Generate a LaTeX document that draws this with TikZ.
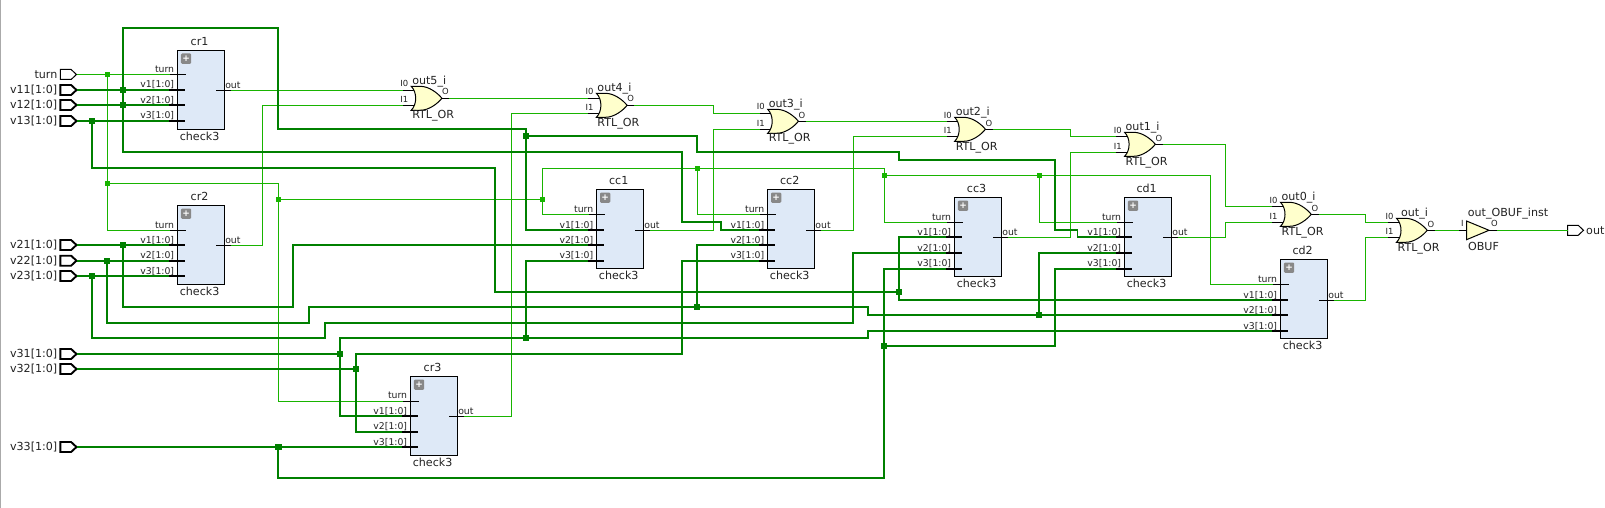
\documentclass[tikz,border=0pt]{standalone}
\usepackage{fontspec}
\setmainfont{DejaVu Sans}
\definecolor{wirelt}{HTML}{18B400}
\definecolor{wirebus}{HTML}{008000}
\definecolor{blockfill}{HTML}{DEE9F7}
\definecolor{gatefill}{HTML}{FFFFCC}
\definecolor{edgegray}{HTML}{AAAAAA}
\definecolor{icongray}{HTML}{888888}
\definecolor{txt}{HTML}{222222}
\tikzset{
  wl/.style={draw=wirelt,line width=1pt},
  wb/.style={draw=wirebus,line width=1.9pt},
  blockbox/.style={draw=black,fill=blockfill,line width=1pt,minimum width=47pt,minimum height=79pt,inner sep=0pt,outer sep=0pt,anchor=north west},
  iconbox/.style={fill=icongray,rounded corners=1.2pt,minimum width=10.3pt,minimum height=10.3pt,inner sep=0pt,anchor=north west,text=white,font=\fontsize{9}{9}\selectfont\bfseries},
  bigtxt/.style={font=\fontsize{11.1}{12}\selectfont,text=txt,inner sep=0pt,outer sep=0pt},
  pintxt/.style={font=\fontsize{9.3}{10}\selectfont,text=txt,inner sep=0pt,outer sep=0pt},
  smalltxt/.style={font=\fontsize{8.4}{9}\selectfont,text=txt,inner sep=0pt,outer sep=0pt},
  stubn/.style={draw=black,line width=1pt},
  stubb/.style={draw=black,line width=1.9pt},
  gateshape/.style={draw=black,fill=gatefill,line width=1pt,line join=miter},
  dotl/.style={fill=wirelt,minimum size=5pt,inner sep=0pt,outer sep=0pt},
  dotb/.style={fill=wirebus,minimum size=6.2pt,inner sep=0pt,outer sep=0pt},
}
% name, x left, y top, y turn, y v1, y v2, y v3, y out
\newcommand{\mkblock}[8]{%
  \node[blockbox] (#1) at (#2,#3) {};
  \node[iconbox] (#1-plus) at (#2+3.4,#3+3) {+};
  \node[bigtxt,anchor=base] (#1-name) at (#2+22.3,#3-4.5) {#1};
  \node[bigtxt,anchor=base] (#1-type) at (#2+22.3,#3+89.7) {check3};
  \coordinate (#1-turn) at (#2-7.7,#4);
  \coordinate (#1-v1) at (#2-8,#5);
  \coordinate (#1-v2) at (#2-8,#6);
  \coordinate (#1-v3) at (#2-8,#7);
  \coordinate (#1-out) at (#2+53.4,#8);
  \draw[stubn] (#1-turn) -- (#2+8.7,#4);
  \draw[stubb] (#1-v1) -- (#2+7.7,#5);
  \draw[stubb] (#1-v2) -- (#2+7.7,#6);
  \draw[stubb] (#1-v3) -- (#2+7.7,#7);
  \draw[stubn] (#2+38.7,#8) -- (#1-out);
  \node[pintxt,anchor=base east] (#1-lt) at (#2-3.2,#4-2.2) {turn};
  \node[pintxt,anchor=base east] (#1-l1) at (#2-3.2,#5-2) {v1[1:0]};
  \node[pintxt,anchor=base east] (#1-l2) at (#2-3.2,#6-2) {v2[1:0]};
  \node[pintxt,anchor=base east] (#1-l3) at (#2-3.2,#7-2) {v3[1:0]};
  \node[pintxt,anchor=base west] (#1-lo) at (#2+48,#8-2) {out};
}
% name, x left, y I0, y I1, y O, title
\newcommand{\mkgate}[6]{%
  \coordinate (#1-i0) at (#2-8.2,#3);
  \coordinate (#1-i1) at (#2-8.2,#4);
  \coordinate (#1-o) at (#2+38,#5);
  \draw[stubn] (#1-i0) -- (#2+4,#3);
  \draw[stubn] (#1-i1) -- (#2+4,#4);
  \draw[stubn] (#2+30,#5) -- (#1-o);
  \path[gateshape] (#2,#5-12) -- (#2+9,#5-12)
    .. controls (#2+18,#5-12) and (#2+26.7,#5-5) .. (#2+30.7,#5)
    .. controls (#2+26.7,#5+5) and (#2+18,#5+12) .. (#2+9,#5+12)
    -- (#2,#5+12)
    .. controls (#2+6,#5+6) and (#2+6,#5-6) .. cycle;
  \node[bigtxt,anchor=base] (#1-name) at (#2+18,#5-14) {#6};
  \node[bigtxt,anchor=base] (#1-type) at (#2+22,#5+20.7) {RTL\_OR};
  \node[smalltxt,anchor=base] (#1-li0) at (#2-6.9,#3-3.3) {I0};
  \node[smalltxt,anchor=base] (#1-li1) at (#2-6.9,#4-2.5) {I1};
  \node[smalltxt,anchor=base] (#1-lo) at (#2+34.3,#5-3.3) {O};
}
% name, y, label, line width
\newcommand{\mkport}[4]{%
  \coordinate (#1) at (76.5,#2);
  \draw[draw=black,fill=white,line width=#4] (60.4,#2-5) -- (71.1,#2-5) -- (#1) -- (71.1,#2+5) -- (60.4,#2+5) -- cycle;
  \node[bigtxt,anchor=base east] (#1-lab) at (57.3,#2+3.8) {#3};
}
\begin{document}
\begin{tikzpicture}[x=1pt,y=-1pt]
\useasboundingbox (0,0) rectangle (1605,508);
\fill[white] (0,0) rectangle (1605,508);
\fill[edgegray] (0,0) rectangle (1.2,508);

% ports
\mkport{turn}{74.5}{turn}{1pt}
\mkport{v11}{90}{v11[1:0]}{1.9pt}
\mkport{v12}{105}{v12[1:0]}{1.9pt}
\mkport{v13}{121}{v13[1:0]}{1.9pt}
\mkport{v21}{245}{v21[1:0]}{1.9pt}
\mkport{v22}{260.7}{v22[1:0]}{1.9pt}
\mkport{v23}{276}{v23[1:0]}{1.9pt}
\mkport{v31}{354}{v31[1:0]}{1.9pt}
\mkport{v32}{369}{v32[1:0]}{1.9pt}
\mkport{v33}{447}{v33[1:0]}{1.9pt}

% blocks
\mkblock{cr1}{177.3}{50.3}{74.5}{90}{105}{121}{90.3}
\mkblock{cr2}{177.3}{205.3}{230.3}{245}{260.7}{276}{245.3}
\mkblock{cr3}{410.3}{376.3}{401}{416}{431.7}{447}{416.3}
\mkblock{cc1}{596.4}{189.3}{214.3}{230}{245}{260.7}{230.3}
\mkblock{cc2}{767.4}{189.3}{214.3}{230}{245}{260.7}{230.3}
\mkblock{cc3}{954.3}{197.3}{222.3}{237}{253}{268.7}{237.3}
\mkblock{cd1}{1124.3}{197.3}{222.3}{237}{253}{268.7}{237.3}
\mkblock{cd2}{1280.3}{259.3}{284.3}{300}{315}{331}{300.3}

% gates
\mkgate{out5}{411.2}{90.3}{105.3}{98.3}{out5\_i}
\mkgate{out4}{596.4}{98.3}{113.3}{105.3}{out4\_i}
\mkgate{out3}{767.7}{113.3}{129.3}{121.3}{out3\_i}
\mkgate{out2}{954.7}{121.3}{136.3}{129.3}{out2\_i}
\mkgate{out1}{1124.6}{136.3}{152.3}{144.3}{out1\_i}
\mkgate{out0}{1280.5}{206.3}{222.3}{214.3}{out0\_i}
\mkgate{outg}{1396.5}{222.3}{237.3}{230.3}{out\_i}

% output buffer
\coordinate (obuf-i) at (1459,230.3);
\coordinate (obuf-o) at (1496.8,230.3);
\draw[stubn] (obuf-i) -- (1467,230.3);
\draw[stubn] (1489,230.3) -- (obuf-o);
\path[gateshape] (1466.5,221) -- (1489,230.3) -- (1466.5,239.7) -- cycle;
\node[bigtxt,anchor=base] (obuf-name) at (1508,216.5) {out\_OBUF\_inst};
\node[bigtxt,anchor=base] (obuf-type) at (1483.5,250) {OBUF};
\node[smalltxt,anchor=base] (obuf-li) at (1462.4,226.5) {I};
\node[smalltxt,anchor=base] (obuf-lo) at (1494.5,226.5) {O};

% output port
\coordinate (outp) at (1567.5,230.3);
\draw[draw=black,fill=white,line width=1pt] (outp) ++(0,-5) -- (1578.2,225.3) -- (1583.5,230.3) -- (1578.2,235.3) -- (1567.5,235.3) -- cycle;
\node[bigtxt,anchor=base west] (outp-lab) at (1586.2,234.1) {out};

% junction coordinates
\coordinate (jt1) at (107.5,74.5);
\coordinate (jt2) at (107.5,183.3);
\coordinate (jt3) at (278.4,199.3);
\coordinate (jt4) at (542.5,199.3);
\coordinate (jt5) at (697.4,168.3);
\coordinate (jt6) at (884.4,175.3);
\coordinate (jt7) at (1039.6,175.3);
\coordinate (jb1) at (122.8,90);
\coordinate (jb2) at (526.1,135.7);
\coordinate (jb3) at (122.8,105);
\coordinate (jb4) at (91.8,121);
\coordinate (jb5) at (899,292);
\coordinate (jb6) at (122.8,245);
\coordinate (jb7) at (107.1,260.7);
\coordinate (jb8) at (697.1,306.7);
\coordinate (jb9) at (1039,315);
\coordinate (jb10) at (91.8,276);
\coordinate (jb11) at (339.8,354);
\coordinate (jb12) at (526.1,338);
\coordinate (jb13) at (355.9,369);
\coordinate (jb14) at (278.4,447);
\coordinate (jb15) at (884,346);

% single-bit wires
\draw[wl] (turn) -- (jt1) -- (cr1-turn);
\draw[wl] (jt1) -- (jt2) |- (cr2-turn);
\draw[wl] (jt2) -- (278.4,183.3) -- (jt3) |- (cr3-turn);
\draw[wl] (jt3) -- (jt4);
\draw[wl] (jt4) |- (cc1-turn);
\draw[wl] (jt4) -- (542.5,168.3) -- (jt5) -- (884.4,168.3) -- (jt6);
\draw[wl] (jt5) |- (cc2-turn);
\draw[wl] (jt6) |- (cc3-turn);
\draw[wl] (jt6) -- (jt7) |- (cd1-turn);
\draw[wl] (jt7) -- (1210.2,175.3) |- (cd2-turn);
\draw[wl] (cr1-out) -- (out5-i0);
\draw[wl] (cr2-out) -- (262.4,245.3) |- (out5-i1);
\draw[wl] (out5-o) -- (out4-i0);
\draw[wl] (cr3-out) -- (511.8,416.3) |- (out4-i1);
\draw[wl] (out4-o) -- (713.4,105.3) |- (out3-i0);
\draw[wl] (cc1-out) -- (713.4,230.3) |- (out3-i1);
\draw[wl] (out3-o) -- (out2-i0);
\draw[wl] (cc2-out) -- (853.3,230.3) |- (out2-i1);
\draw[wl] (out2-o) -- (1070.5,129.3) |- (out1-i0);
\draw[wl] (cc3-out) -- (1070.5,237.3) |- (out1-i1);
\draw[wl] (out1-o) -- (1225.2,144.3) |- (out0-i0);
\draw[wl] (cd1-out) -- (1225.2,237.3) |- (out0-i1);
\draw[wl] (out0-o) -- (1365.8,214.3) |- (outg-i0);
\draw[wl] (cd2-out) -- (1365.8,300.3) |- (outg-i1);
\draw[wl] (outg-o) -- (obuf-i);
\draw[wl] (obuf-o) -- (outp);

% bus wires
\draw[wb] (v11) -- (jb1) -- (cr1-v1);
\draw[wb] (jb3) -- (jb1) -- (122.8,28.3) -- (278.4,28.3) -- (278.4,129) -- (526.1,129) -- (jb2) |- (cc1-v1);
\draw[wb] (jb2) -- (697.1,135.7) -- (697.1,152) -- (899,152) -- (899,160) -- (1055,160) -- (1055,230) -- (1077.5,230) -- (1077.5,237) -- (cd1-v1);
\draw[wb] (v12) -- (jb3) -- (cr1-v2);
\draw[wb] (jb3) -- (122.8,152) -- (682.1,152) -- (682.1,221.7) -- (721,221.7) -- (721,230) -- (cc2-v1);
\draw[wb] (v13) -- (jb4) -- (cr1-v3);
\draw[wb] (jb4) -- (91.8,168) -- (494.7,168) -- (494.7,292) -- (jb5) -- (899,300) -- (cd2-v1);
\draw[wb] (jb5) |- (cc3-v1);
\draw[wb] (v21) -- (jb6) -- (cr2-v1);
\draw[wb] (jb6) -- (122.8,306.7) -- (293.1,306.7) -- (293.1,245) -- (cc1-v2);
\draw[wb] (v22) -- (jb7) -- (cr2-v2);
\draw[wb] (jb7) -- (107.1,323) -- (309.1,323) -- (309.1,306.7) -- (jb8) -- (868,306.7) -- (868,315) -- (jb9) -- (cd2-v2);
\draw[wb] (jb8) |- (cc2-v2);
\draw[wb] (jb9) |- (cd1-v2);
\draw[wb] (v23) -- (jb10) -- (cr2-v3);
\draw[wb] (jb10) -- (91.8,338) -- (324.8,338) -- (324.8,323) -- (853.3,323) -- (853.3,253) -- (cc3-v2);
\draw[wb] (v31) -- (jb11) |- (cr3-v1);
\draw[wb] (jb11) -- (339.8,338) -- (jb12) -- (868,338) -- (868,331) -- (cd2-v3);
\draw[wb] (jb12) |- (cc1-v3);
\draw[wb] (v32) -- (jb13) |- (cr3-v2);
\draw[wb] (jb13) -- (355.9,354) -- (682.1,354) -- (682.1,260.7) -- (cc2-v3);
\draw[wb] (v33) -- (jb14) -- (cr3-v3);
\draw[wb] (jb14) -- (278.4,478) -- (884,478) -- (jb15) |- (cc3-v3);
\draw[wb] (jb15) -- (1055,346) |- (cd1-v3);

% junction dots
\foreach \j in {jt1,jt2,jt3,jt4,jt5,jt6,jt7} {\node[dotl] (dot-\j) at (\j) {};}
\foreach \j in {jb1,jb2,jb3,jb4,jb5,jb6,jb7,jb8,jb9,jb10,jb11,jb12,jb13,jb14,jb15} {\node[dotb] (dot-\j) at (\j) {};}
\end{tikzpicture}
\end{document}
